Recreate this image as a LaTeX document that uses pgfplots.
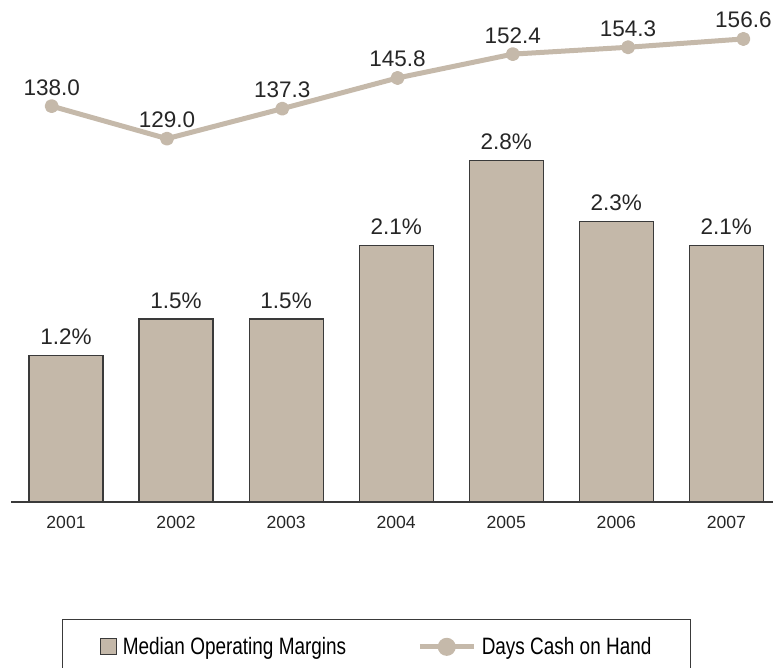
\documentclass[border=0pt]{standalone}
\usepackage{fontspec}
\setmainfont{Liberation Sans}
\newfontfamily\legfont[FakeStretch=0.8]{Liberation Sans}
\usepackage{pgfplots}
\pgfplotsset{compat=1.18}
\definecolor{barc}{HTML}{C4B8A9}
\definecolor{linec}{HTML}{C5B9AA}
\definecolor{edgec}{HTML}{3A3A3A}
\begin{document}
\begin{tikzpicture}[x=1pt,y=1pt]
\useasboundingbox (0,0) rectangle (773,668);
% bars
\begin{axis}[
  at={(11pt,166pt)}, anchor=south west, scale only axis,
  width=762pt, height=482pt,
  xmin=-0.4998, xmax=6.424, ymin=0, ymax=3.951,
  axis x line=bottom, axis y line=none,
  x axis line style={-, draw=edgec, line width=1.3pt},
  xtick={0,...,6},
  xticklabels={2001,2002,2003,2004,2005,2006,2007},
  major tick length=0pt,
  /pgf/number format/assume math mode=true,
  xticklabel style={font=\fontsize{17.6}{20}\selectfont, text=black!85, anchor=base, yshift=-27pt, inner sep=0pt},
  clip=false,
]
\addplot[ybar, bar width=74pt, fill=barc, draw=edgec, line width=1.2pt,
  nodes near coords={\pgfmathprintnumber[fixed,precision=1,fixed zerofill,assume math mode=true]{\pgfplotspointmeta}\%},
  every node near coord/.append style={anchor=base, yshift=11pt, inner sep=0pt, font=\fontsize{22.5}{26}\selectfont, text=black!85},
] coordinates {(0,1.2) (1,1.5) (2,1.5) (3,2.1) (4,2.8) (5,2.3) (6,2.1)};
\end{axis}
% line
\begin{axis}[
  at={(11pt,166pt)}, anchor=south west, scale only axis,
  width=762pt, height=482pt,
  xmin=-0.353, xmax=6.257, ymin=28.41, ymax=161.85,
  axis lines=none, clip=false,
  /pgf/number format/assume math mode=true,
  legend columns=2,
  legend style={draw=none, fill=none, at={(0.1129,-0.3005)}, anchor=west,
    nodes={inner sep=0pt}, font=\legfont\fontsize{23.7}{26}\selectfont,
    /tikz/every even column/.append style={column sep=71pt}},
]
\addlegendimage{legend image code/.code={\draw[fill=barc, draw=edgec, line width=1.2pt] (0pt,-8pt) rectangle (16pt,8pt); \path[draw=none, fill=none] (0pt,0pt) -- (22pt,0pt);}}
\addlegendentry{Median Operating Margins}
\addplot[linec, line width=5pt, line join=round, mark=*, mark size=4.5pt,
  mark options={fill=linec, draw=none},
  nodes near coords={\pgfmathprintnumber[fixed,precision=1,fixed zerofill,assume math mode=true]{\pgfplotspointmeta}},
  every node near coord/.append style={anchor=base, yshift=11pt, inner sep=0pt, font=\fontsize{22.5}{26}\selectfont, text=black!85},
  legend image code/.code={\draw[linec, line width=5pt] (0pt,0pt) -- (54pt,0pt); \fill[linec] (27pt,0pt) circle (6.5pt); \path[draw=none, fill=none] (0pt,0pt) -- (62pt,0pt);},
] coordinates {(0,138.0) (1,129.0) (2,137.3) (3,145.8) (4,152.4) (5,154.3) (6,156.6)};
\addlegendentry{Days Cash on Hand}
\end{axis}
\draw[edgec, line width=1pt] (62.7,48) rectangle (690.7,-20);
\end{tikzpicture}
\end{document}
